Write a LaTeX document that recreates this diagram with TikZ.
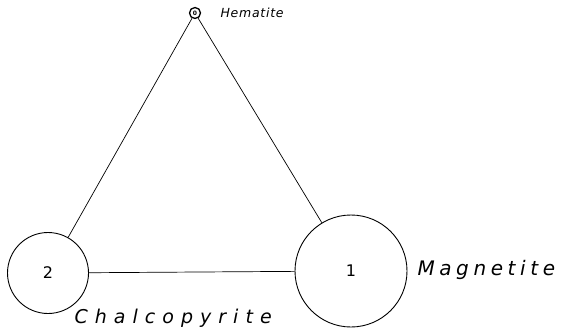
\documentclass[tikz,border=0pt]{standalone}
\usepackage{fontspec}
\setmainfont{DejaVu Sans}
\newfontfamily\handfont{DejaVu Sans}
\usetikzlibrary{positioning}
\tikzset{
	mineral/.style={draw, circle, line width=0.9pt, inner sep=0pt, font=\handfont\fontsize{16}{16}\selectfont},
	tag/.style={font=\handfont\itshape, anchor=west},
	tie/.style={line width=0.7pt}
}

\begin{document}
\begin{tikzpicture}[x=1pt, y=-1pt]
	\useasboundingbox (0,0) rectangle (561,331);
	\node[mineral, minimum size=11pt, line width=1.3pt, font=\handfont\bfseries\fontsize{6}{6}\selectfont] (hematite) at (195,13) {0};
	\node[mineral, minimum size=81pt] (chalco) at (48,273) {2};
	\node[mineral, minimum size=112pt] (magnet) at (351,271) {1};
	\node[tag, font=\handfont\itshape\addfontfeature{LetterSpace=6}\fontsize{12.5}{12.5}\selectfont] (hemtag) at (217,13) {Hematite};
	\node[tag, font=\handfont\itshape\addfontfeature{LetterSpace=23}\fontsize{20}{20}\selectfont] (magtag) at (414,270) {Magnetite};
	\node[tag, font=\handfont\itshape\addfontfeature{LetterSpace=37}\fontsize{19}{19}\selectfont] (chaltag) at (71,318) {Chalcopyrite};
	\draw[tie] (hematite) -- (chalco);
	\draw[tie] (hematite) -- (magnet);
	\draw[tie] (chalco) -- (magnet);
\end{tikzpicture}
\end{document}
